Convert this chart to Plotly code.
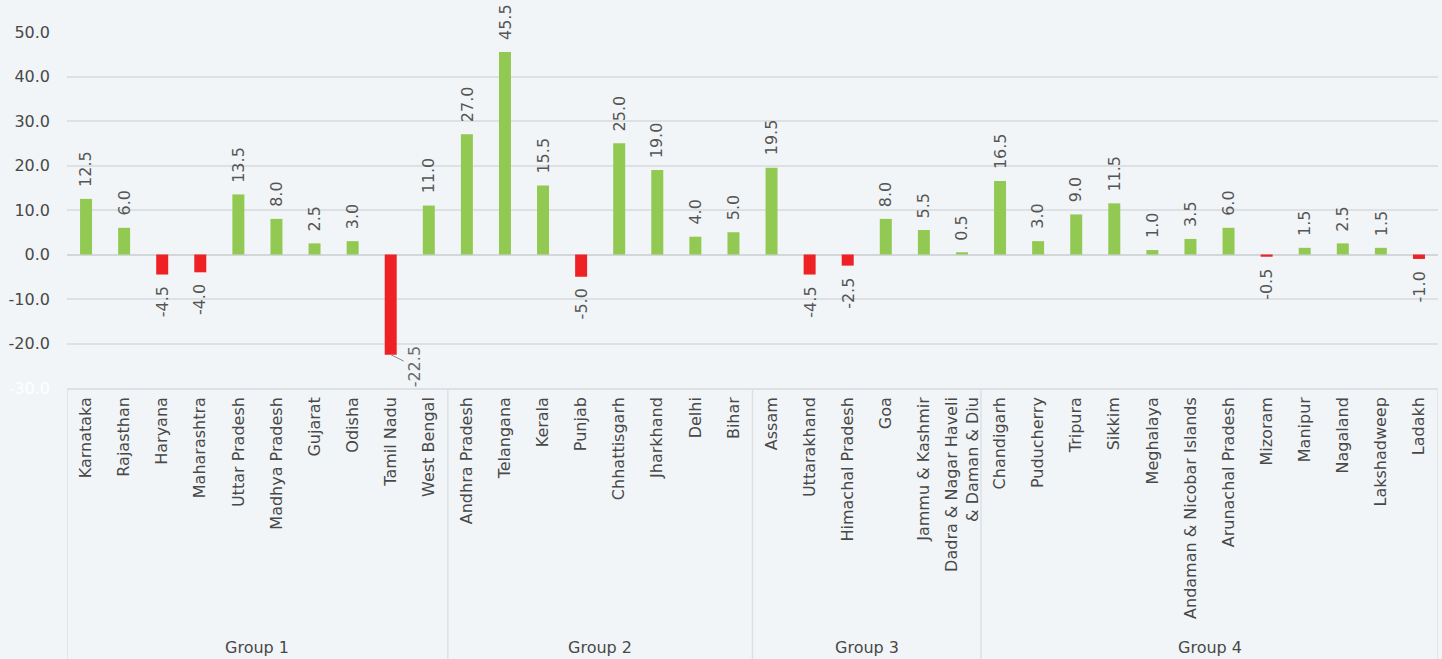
import plotly.graph_objects as go

groups = ["Group 1", "Group 2", "Group 3", "Group 4"]

group1_states = ["Karnataka", "Rajasthan", "Haryana", "Maharashtra", "Uttar Pradesh",
                 "Madhya Pradesh", "Gujarat", "Odisha", "Tamil Nadu", "West Bengal"]
group1_values = [12.5, 6.0, -4.5, -4.0, 13.5, 8.0, 2.5, 3.0, -22.5, 11.0]

group2_states = ["Andhra Pradesh", "Telangana", "Kerala", "Punjab", "Chhattisgarh",
                 "Jharkhand", "Delhi", "Bihar"]
group2_values = [27.0, 45.5, 15.5, -5.0, 25.0, 19.0, 4.0, 5.0]

group3_states = ["Assam", "Uttarakhand", "Himachal Pradesh", "Goa", "Jammu & Kashmir",
                 "Dadra & Nagar Haveli<br>& Daman & Diu"]
group3_values = [19.5, -4.5, -2.5, 8.0, 5.5, 0.5]

group4_states = ["Chandigarh", "Puducherry", "Tripura", "Sikkim", "Meghalaya",
                 "Andaman & Nicobar Islands", "Arunachal Pradesh", "Mizoram", "Manipur",
                 "Nagaland", "Lakshadweep", "Ladakh"]
group4_values = [16.5, 3.0, 9.0, 11.5, 1.0, 3.5, 6.0, -0.5, 1.5, 2.5, 1.5, -1.0]

y_tick_vals = [50, 40, 30, 20, 10, 0, -10, -20, -30]
y_tick_text = ["50.0", "40.0", "30.0", "20.0", "10.0", "0.0", "-10.0", "-20.0",
               "<span style='color:#ffffff'>-30.0</span>"]

group_states = [group1_states, group2_states, group3_states, group4_states]
group_values = [group1_values, group2_values, group3_values, group4_values]

states = [s for g in group_states for s in g]
values = [v for g in group_values for v in g]

GREEN = "#92C952"
RED = "#EE2125"
BG = "#F2F5F7"
GRID = "#DDE1E4"
FONT = "DejaVu Sans"
FS = 16
TXT = "#484848"

colors = [GREEN if v >= 0 else RED for v in values]

fig = go.Figure()
fig.add_trace(go.Bar(x=states, y=values, marker=dict(color=colors, line=dict(width=0)),
                     hoverinfo="x+y"))

annotations = []
for s, v in zip(states, values):
    txt = f"{v:.1f}"
    if s == "Tamil Nadu":
        annotations.append(dict(x=s, y=v, xref="x", yref="y", text=txt, textangle=-90,
                                showarrow=True, arrowhead=0, arrowwidth=1,
                                arrowcolor="#8a8a8a", ax=24, ay=12, standoff=0,
                                font=dict(family=FONT, size=FS, color="#6b6b6b")))
        continue
    if v >= 0:
        annotations.append(dict(x=s, y=v, xref="x", yref="y", text=txt, textangle=-90,
                                showarrow=False, yanchor="bottom", yshift=10,
                                font=dict(family=FONT, size=FS, color="#555555")))
    else:
        annotations.append(dict(x=s, y=v, xref="x", yref="y", text=txt, textangle=-90,
                                showarrow=False, yanchor="top", yshift=-10,
                                font=dict(family=FONT, size=FS, color="#555555")))

plot_h = 356.0
bottom_y = -(659 - 388) / plot_h
label_y = -(647 - 388) / plot_h

shapes = []
start = 0
edges = [-0.5]
for g_states, g_name in zip(group_states, groups):
    n = len(g_states)
    center = start + (n - 1) / 2.0
    annotations.append(dict(x=center, y=label_y, xref="x", yref="paper", text=g_name,
                            showarrow=False, xanchor="center", yanchor="middle",
                            font=dict(family=FONT, size=FS, color=TXT)))
    start += n
    edges.append(start - 0.5)

for e in edges:
    shapes.append(dict(type="line", xref="x", yref="paper", x0=e, x1=e, y0=0, y1=bottom_y,
                       line=dict(color=GRID, width=1.5)))

fig.update_layout(
    width=1442, height=659,
    margin=dict(l=67, r=4, t=32, b=271),
    paper_bgcolor=BG, plot_bgcolor=BG,
    showlegend=False,
    bargap=0.685,
    font=dict(family=FONT, size=FS, color=TXT),
    annotations=annotations,
    shapes=shapes,
    xaxis=dict(type="category", tickangle=-90, showgrid=False, showline=True,
               linecolor=GRID, linewidth=1.5, ticks="", ticklabelstandoff=1,
               tickfont=dict(family=FONT, size=FS, color=TXT), range=[-0.5, 35.5]),
    yaxis=dict(range=[-30, 50], tickvals=y_tick_vals, ticktext=y_tick_text,
               showgrid=True, gridcolor=GRID, gridwidth=1.5, zeroline=True,
               zerolinecolor="#D3D7DA", zerolinewidth=1.5, showline=False,
               ticks="", ticklabelstandoff=16,
               tickfont=dict(family=FONT, size=FS, color=TXT)),
)

fig.write_html("out.html")
